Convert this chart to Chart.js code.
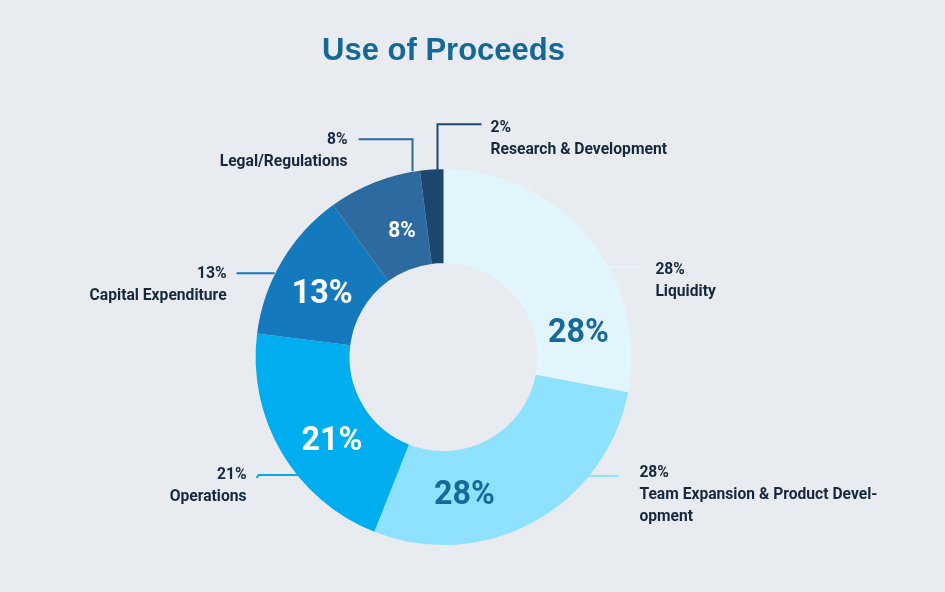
<!DOCTYPE html>
<html>
<head>
<meta charset="utf-8">
<script src="https://cdn.jsdelivr.net/npm/chart.js@4"></script>
<style>
    html, body { margin: 0; padding: 0; background: #e8ebef; }
    #wrap { width: 945px; height: 592px; }
</style>
</head>
<body>
<div id="wrap"><canvas id="useChart" width="945" height="592"></canvas></div>
<script>
// data
const categories = ['Liquidity', 'Team Expansion & Product Development', 'Operations', 'Capital Expenditure', 'Legal/Regulations', 'Research & Development'];
const shares = [28, 28, 21, 13, 8, 2];
const calloutLines = [
    ['Liquidity'],
    ['Team Expansion & Product Devel-', 'opment'],
    ['Operations'],
    ['Capital Expenditure'],
    ['Legal/Regulations'],
    ['Research & Development']
];

const sliceColors = ['#e2f5fd', '#8fe2fd', '#00adef', '#1479bd', '#2d6aa0', '#1c476d'];
const darkText = '#15283d';
const innerTextColors = ['#17699a', '#17699a', '#ffffff', '#ffffff', '#ffffff', null];
const innerFontSizes = [34, 34, 34, 34, 22, 0];

// where the inside labels sit: fraction of slice angle, fraction of ring width
const innerSpots = [[0.79, 0.46], [0.70, 0.48], [0.42, 0.48], [0.44, 0.46], [0.62, 0.42], null];

// leader lines, offsets from centre at a radius of 188
const callouts = [
    { line: [[161, -90], [197, -90]], tx: 212, ty: -87, align: 'left' },
    { line: [[131, 119], [175, 119]], tx: 196, ty: 116, align: 'left' },
    { line: [[-135, 118], [-185, 118], [-187, 121]], tx: -197, ty: 118, align: 'right' },
    { line: [[-169, -84], [-207, -84]], tx: -217, ty: -83, align: 'right' },
    { line: [[-31, -186], [-31, -218], [-85, -218]], tx: -96, ty: -217, align: 'right' },
    { line: [[-6, -186], [-6, -233], [38, -233]], tx: 47, ty: -229, align: 'left' }
];

const fontFace = '"Roboto", "Liberation Sans", sans-serif';

// draws text a little squeezed, the reference uses a condensed face
function squeezedText(ctx, text, x, y, sx) {
    ctx.save();
    ctx.translate(x, y);
    ctx.scale(sx, 1);
    ctx.fillText(text, 0, 0);
    ctx.restore();
}

const labelPlugin = {
    id: 'useLabels',
    afterDatasetsDraw(chart) {
        const ctx = chart.ctx;
        const meta = chart.getDatasetMeta(0);
        ctx.save();
        meta.data.forEach(function(arc, i) {
            const p = arc.getProps(['x', 'y', 'startAngle', 'endAngle', 'innerRadius', 'outerRadius'], true);
            const k = p.outerRadius / 188;

            // leader line
            const c = callouts[i];
            ctx.strokeStyle = sliceColors[i];
            ctx.lineWidth = 2;
            ctx.beginPath();
            c.line.forEach(function(pt, j) {
                const x = p.x + pt[0] * k, y = p.y + pt[1] * k;
                if (j === 0) ctx.moveTo(x, y); else ctx.lineTo(x, y);
            });
            ctx.stroke();

            // outside text
            ctx.fillStyle = darkText;
            ctx.font = 'bold 17px ' + fontFace;
            ctx.textAlign = c.align;
            ctx.textBaseline = 'middle';
            const lines = [shares[i] + '%'].concat(calloutLines[i]);
            lines.forEach(function(t, j) {
                squeezedText(ctx, t, p.x + c.tx * k, p.y + c.ty * k + j * 22, 0.92);
            });

            // inside text
            const spot = innerSpots[i];
            if (spot) {
                const a = p.startAngle + spot[0] * (p.endAngle - p.startAngle);
                const r = p.innerRadius + spot[1] * (p.outerRadius - p.innerRadius);
                ctx.fillStyle = innerTextColors[i];
                ctx.font = 'bold ' + innerFontSizes[i] + 'px ' + fontFace;
                ctx.textAlign = 'center';
                squeezedText(ctx, shares[i] + '%', p.x + Math.cos(a) * r, p.y + Math.sin(a) * r + 1, 0.95);
            }
        });
        ctx.restore();
    }
};

const ctx = document.getElementById('useChart').getContext('2d');
const myChart = new Chart(ctx, {
    type: 'doughnut',
    data: {
        labels: categories,
        datasets: [{
            data: shares,
            backgroundColor: sliceColors,
            borderWidth: 0,
            hoverOffset: 0
        }]
    },
    options: {
        responsive: false,
        animation: false,
        cutout: '50%',
        layout: {
            padding: { top: 0, bottom: 47, left: 0, right: 58 }
        },
        plugins: {
            legend: { display: false },
            tooltip: { enabled: false },
            title: {
                display: true,
                text: 'Use of Proceeds',
                color: '#136896',
                font: { family: '"Liberation Sans", Arial, sans-serif', size: 31, weight: 'bold' },
                padding: { top: 33, bottom: 99 }
            }
        }
    },
    plugins: [labelPlugin]
});
</script>
</body>
</html>
